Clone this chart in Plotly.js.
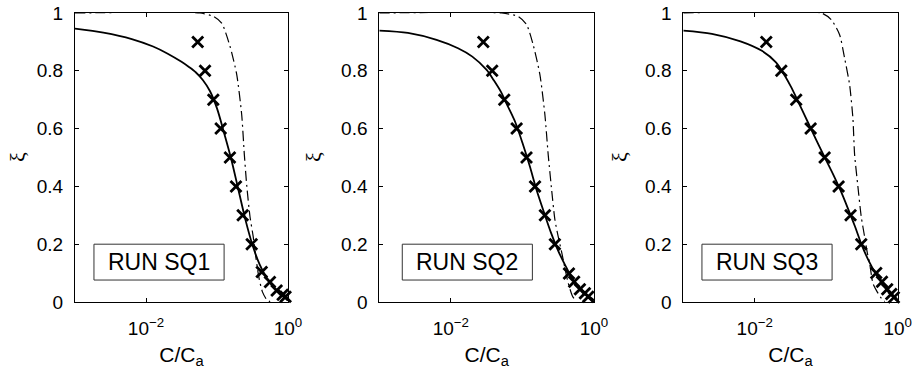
<!DOCTYPE html>
<html>
<head>
<meta charset="utf-8">
<script src="https://cdn.plot.ly/plotly-3.0.1.min.js"></script>
<style>html,body{margin:0;padding:0;background:#fff;}#chart{width:918px;height:375px;}</style>
</head>
<body>
<div id="chart"></div>
<script>
// ---- Data (C/Ca on log axis, xi on linear axis) ----
const runLabels = ["RUN SQ1", "RUN SQ2", "RUN SQ3"];
const xTitle = "C/C<sub>a</sub>";
const yTitle = "ξ";
const xTickVals = [0.01, 1];
const xTickText = ["10<sup>−2</sup>", "10<sup>0</sup>"];
const yTickVals = [0, 0.2, 0.4, 0.6, 0.8, 1];
const yTickText = ["0", "0.2", "0.4", "0.6", "0.8", "1"];

// Experimental points (crosses)
const exp1X = [0.0535, 0.0678, 0.0887, 0.1127, 0.152, 0.185, 0.230, 0.308, 0.427, 0.557, 0.692, 0.841, 0.923];
const exp1Y = [0.9, 0.8, 0.7, 0.6, 0.5, 0.4, 0.3, 0.2, 0.104, 0.069, 0.040, 0.025, 0.018];
const exp2X = [0.0284, 0.0378, 0.0557, 0.083, 0.114, 0.150, 0.206, 0.284, 0.447, 0.528, 0.635, 0.746, 0.830];
const exp2Y = [0.9, 0.8, 0.7, 0.6, 0.5, 0.4, 0.3, 0.2, 0.099, 0.07, 0.044, 0.03, 0.018];
const exp3X = [0.01449, 0.0235, 0.038, 0.0605, 0.095, 0.149, 0.219, 0.309, 0.501, 0.603, 0.713, 0.813, 0.885];
const exp3Y = [0.9, 0.8, 0.7, 0.6, 0.5, 0.4, 0.3, 0.2, 0.1, 0.07, 0.044, 0.028, 0.016];

// Solid model curves, read on a common C/Ca grid
const fitX = [0.001, 0.002512, 0.00631, 0.01259, 0.01995, 0.03162, 0.03981, 0.05012, 0.0631, 0.07943, 0.1,
              0.1259, 0.1585, 0.1995, 0.2512, 0.3162, 0.3981, 0.5012, 0.631, 0.7943, 1];
const fit1Y = [0.946, 0.932, 0.910, 0.884, 0.860, 0.831, 0.814, 0.795, 0.768, 0.730, 0.670,
               0.585, 0.495, 0.390, 0.285, 0.197, 0.130, 0.083, 0.050, 0.025, 0.007];
const fit2Y = [0.939, 0.931, 0.907, 0.878, 0.849, 0.803, 0.767, 0.727, 0.675, 0.622, 0.551,
               0.472, 0.386, 0.311, 0.239, 0.177, 0.126, 0.080, 0.048, 0.025, 0.007];
const fit3Y = [0.939, 0.928, 0.902, 0.869, 0.828, 0.748, 0.697, 0.645, 0.592, 0.540, 0.490,
               0.440, 0.386, 0.326, 0.263, 0.195, 0.140, 0.095, 0.058, 0.030, 0.007];

// Dash-dot model curves
const alt1X = [0.001, 0.0575, 0.0891, 0.1164, 0.1524, 0.1897, 0.2228, 0.2427, 0.263, 0.2917, 0.3236, 0.3548, 0.389, 0.4365, 0.501, 0.56];
const alt1Y = [1.0, 1.0, 0.988, 0.965, 0.885, 0.787, 0.648, 0.51, 0.40, 0.295, 0.226, 0.15, 0.085, 0.035, 0.008, 0.001];
const alt2X = [0.001, 0.0513, 0.0871, 0.1143, 0.1413, 0.1754, 0.206, 0.229, 0.2559, 0.2844, 0.3162, 0.355, 0.389, 0.4365, 0.501, 0.562];
const alt2Y = [1.0, 1.0, 0.988, 0.96, 0.89, 0.787, 0.648, 0.51, 0.388, 0.284, 0.226, 0.17, 0.122, 0.065, 0.02, 0.003];
const alt3X = [0.001, 0.0851, 0.1175, 0.1538, 0.1807, 0.2123, 0.236, 0.2495, 0.2773, 0.309, 0.3443, 0.3758, 0.4046, 0.4498, 0.501, 0.5888, 0.66];
const alt3Y = [1.0, 1.0, 0.977, 0.925, 0.844, 0.752, 0.637, 0.51, 0.40, 0.295, 0.226, 0.17, 0.134, 0.065, 0.041, 0.013, 0.002];

const expX = [exp1X, exp2X, exp3X], expY = [exp1Y, exp2Y, exp3Y];
const fitY = [fit1Y, fit2Y, fit3Y];
const altX = [alt1X, alt2X, alt3X], altY = [alt1Y, alt2Y, alt3Y];

// ---- Layout geometry ----
const W = 918, H = 375;
const xDomains = [[75, 288], [379.3, 594], [683.3, 897.7]];
const yDomain = [1 - 302 / H, 1 - 13 / H];
const yTitleX = [17, 313, 619];
const boxDom = [[0.089, 0.70], [0.107, 0.713], [0.087, 0.694]];
const FONT = "Liberation Sans, Arial, Helvetica, sans-serif";

const traces = [];
const layout = {
  width: W, height: H,
  margin: {l: 0, r: 0, t: 0, b: 0},
  paper_bgcolor: "#fff", plot_bgcolor: "#fff",
  showlegend: false,
  font: {family: FONT, size: 19, color: "#000"},
  shapes: [], annotations: []
};

for (let i = 0; i < 3; i++) {
  const sx = i === 0 ? "" : String(i + 1);
  const xa = "x" + sx, ya = "y" + sx;
  traces.push({
    x: altX[i], y: altY[i], xaxis: xa, yaxis: ya, type: "scatter", mode: "lines",
    line: {color: "#000", width: 1.2, dash: "10px,4px,2px,4px", shape: "spline", smoothing: 0.6},
    hoverinfo: "skip"
  });
  traces.push({
    x: fitX, y: fitY[i], xaxis: xa, yaxis: ya, type: "scatter", mode: "lines",
    line: {color: "#000", width: 1.8, shape: "spline", smoothing: 0.8},
    hoverinfo: "skip"
  });
  traces.push({
    x: expX[i], y: expY[i], xaxis: xa, yaxis: ya, type: "scatter", mode: "markers",
    marker: {symbol: "x-thin", size: 11, color: "#000", line: {color: "#000", width: 2.8}},
    cliponaxis: false, hoverinfo: "skip"
  });

  layout["xaxis" + sx] = {
    domain: [xDomains[i][0] / W, xDomains[i][1] / W], anchor: ya,
    type: "log", range: [-3, 0],
    tickvals: xTickVals, ticktext: xTickText,
    ticks: "inside", ticklen: 4, tickcolor: "#000", tickwidth: 1,
    showline: true, linecolor: "#000", linewidth: 1, mirror: "allticks",
    showgrid: false, zeroline: false,
    tickfont: {family: FONT, size: 19, color: "#000"},
    ticklabelstandoff: 9,
    title: {text: xTitle, font: {family: FONT, size: 21, color: "#000"}, standoff: 9}
  };
  layout["yaxis" + sx] = {
    domain: yDomain, anchor: xa,
    range: [0, 1], tickvals: yTickVals, ticktext: yTickText,
    ticks: "inside", ticklen: 4, tickcolor: "#000", tickwidth: 1,
    showline: true, linecolor: "#000", linewidth: 1, mirror: "allticks",
    showgrid: false, zeroline: false,
    tickfont: {family: FONT, size: 19, color: "#000"},
    ticklabelstandoff: 7
  };
  // y-axis label (xi), placed as a rotated text beside each panel
  layout.annotations.push({
    xref: "paper", yref: "paper",
    x: yTitleX[i] / W, y: 1 - 157 / H,
    xanchor: "center", yanchor: "middle", showarrow: false, textangle: -90,
    text: yTitle, font: {family: "Liberation Serif, DejaVu Serif, serif", size: 22, color: "#000"}
  });
  layout.shapes.push({
    type: "rect", xref: xa + " domain", yref: ya + " domain",
    x0: boxDom[i][0], x1: boxDom[i][1], y0: 0.076, y1: 0.20,
    line: {color: "#333", width: 1}, fillcolor: "#fff", layer: "above"
  });
  layout.annotations.push({
    xref: xa + " domain", yref: ya + " domain",
    x: (boxDom[i][0] + boxDom[i][1]) / 2, y: 0.138,
    xanchor: "center", yanchor: "middle", showarrow: false,
    text: runLabels[i], font: {family: FONT, size: 23, color: "#000"}
  });
}

Plotly.newPlot("chart", traces, layout, {staticPlot: true, displayModeBar: false});
</script>
</body>
</html>
